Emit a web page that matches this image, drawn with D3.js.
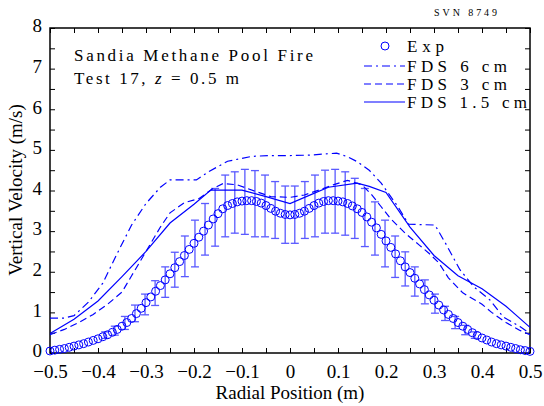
<!DOCTYPE html>
<html>
<head>
<meta charset="utf-8">
<script src="https://cdn.jsdelivr.net/npm/d3@7"></script>
<style>
  body { margin: 0; background: #fff; }
  svg { display: block; }
  .serif { font-family: "Liberation Serif", "Times New Roman", Times, "DejaVu Serif", serif; }
</style>
</head>
<body>
<svg id="chart" width="544" height="406"></svg>
<script>
// experimental data (radial position, velocity)
const expR = [-0.50,-0.49,-0.48,-0.47,-0.46,-0.45,-0.44,-0.43,-0.42,-0.41,
  -0.40,-0.39,-0.38,-0.37,-0.36,-0.35,-0.34,-0.33,-0.32,-0.31,
  -0.30,-0.29,-0.28,-0.27,-0.26,-0.25,-0.24,-0.23,-0.22,-0.21,
  -0.20,-0.19,-0.18,-0.17,-0.16,-0.15,-0.14,-0.13,-0.12,-0.11,
  -0.10,-0.09,-0.08,-0.07,-0.06,-0.05,-0.04,-0.03,-0.02,-0.01,
  0.00,
  0.01,0.02,0.03,0.04,0.05,0.06,0.07,0.08,0.09,0.10,
  0.11,0.12,0.13,0.14,0.15,0.16,0.17,0.18,0.19,0.20,
  0.21,0.22,0.23,0.24,0.25,0.26,0.27,0.28,0.29,0.30,
  0.31,0.32,0.33,0.34,0.35,0.36,0.37,0.38,0.39,0.40,
  0.41,0.42,0.43,0.44,0.45,0.46,0.47,0.48,0.49,0.50];
const expV = [0.05,0.07,0.09,0.11,0.14,0.17,0.20,0.23,0.27,0.31,
  0.35,0.40,0.45,0.51,0.58,0.66,0.75,0.85,0.97,1.10,
  1.24,1.38,1.52,1.66,1.80,1.95,2.10,2.25,2.40,2.55,
  2.70,2.85,3.00,3.15,3.30,3.43,3.55,3.63,3.68,3.72,
  3.74,3.75,3.75,3.73,3.69,3.63,3.56,3.49,3.44,3.41,
  3.40,
  3.41,3.44,3.49,3.56,3.63,3.69,3.73,3.75,3.75,3.74,
  3.72,3.68,3.62,3.55,3.46,3.35,3.22,3.08,2.92,2.76,
  2.60,2.44,2.27,2.12,1.98,1.84,1.70,1.56,1.43,1.30,
  1.18,1.06,0.95,0.85,0.75,0.66,0.58,0.50,0.43,0.37,
  0.32,0.27,0.23,0.20,0.17,0.14,0.11,0.08,0.06,0.04];

// error bars
const errR = [-0.385,-0.365,-0.344,-0.323,-0.302,-0.281,-0.260,-0.240,-0.219,-0.198,
  -0.177,-0.156,-0.135,-0.115,-0.094,-0.073,-0.052,-0.031,-0.010,
  0.010,0.031,0.052,0.073,0.094,0.115,0.135,0.156,0.177,0.198,
  0.219,0.240,0.260,0.281,0.302,0.323,0.344,0.365,0.385];
const errLo = [0.36,0.44,0.58,0.77,0.94,1.17,1.37,1.62,1.88,2.12,
  2.41,2.63,2.86,2.95,2.92,2.86,2.86,2.82,2.70,
  2.70,2.82,2.86,2.95,2.95,2.90,2.82,2.62,2.41,2.12,
  1.86,1.65,1.40,1.21,0.98,0.80,0.60,0.45,0.36];
const errHi = [0.52,0.66,0.90,1.18,1.45,1.78,2.12,2.48,2.88,3.27,
  3.68,4.05,4.38,4.46,4.52,4.49,4.38,4.22,4.11,
  4.11,4.22,4.38,4.50,4.52,4.46,4.30,4.05,3.72,3.27,
  2.88,2.49,2.12,1.80,1.45,1.15,0.90,0.68,0.52];

// FDS 6 cm
const fds6R = [-0.50,-0.47,-0.45,-0.42,-0.39,-0.36,-0.33,-0.30,-0.27,-0.25,-0.195,-0.17,-0.13,-0.08,-0.04,0.00,0.04,0.097,0.12,0.14,0.165,0.19,0.225,0.247,0.302,0.325,0.354,0.383,0.417,0.444,0.479,0.50];
const fds6V = [0.86,0.86,0.92,1.25,1.72,2.45,3.15,3.68,4.08,4.26,4.26,4.46,4.72,4.84,4.86,4.86,4.87,4.92,4.83,4.71,4.50,4.18,3.60,3.17,3.15,2.68,2.05,1.63,1.30,0.89,0.65,0.48];

// FDS 3 cm
const fds3R = [-0.50,-0.47,-0.44,-0.41,-0.38,-0.35,-0.33,-0.30,-0.27,-0.25,-0.22,-0.19,-0.16,-0.14,-0.11,-0.07,-0.04,0.00,0.03,0.06,0.09,0.12,0.15,0.17,0.19,0.21,0.24,0.27,0.29,0.31,0.33,0.36,0.40,0.42,0.45,0.48,0.50];
const fds3V = [0.45,0.58,0.75,0.95,1.20,1.50,1.90,2.50,3.10,3.45,3.70,3.80,4.05,4.17,4.14,3.97,3.85,3.83,3.89,4.01,4.14,4.25,4.14,3.90,3.60,3.30,2.95,2.65,2.45,2.22,1.85,1.48,1.20,1.00,0.75,0.55,0.45];

// FDS 1.5 cm
const fds15R = [-0.50,-0.45,-0.40,-0.35,-0.30,-0.25,-0.20,-0.165,-0.10,-0.05,0.00,0.04,0.08,0.14,0.165,0.20,0.25,0.30,0.35,0.40,0.45,0.50];
const fds15V = [0.48,0.83,1.28,1.88,2.50,3.20,3.66,4.01,4.01,3.85,3.68,3.88,4.08,4.18,4.10,3.95,3.10,2.40,1.90,1.58,1.15,0.63];

const xTicks = [-0.5,-0.45,-0.4,-0.35,-0.3,-0.25,-0.2,-0.15,-0.1,-0.05,0,0.05,0.1,0.15,0.2,0.25,0.3,0.35,0.4,0.45,0.5];
const xLabels = [-0.5,-0.4,-0.3,-0.2,-0.1,0,0.1,0.2,0.3,0.4,0.5];
const yTicks = [0,0.5,1,1.5,2,2.5,3,3.5,4,4.5,5,5.5,6,6.5,7,7.5,8];
const yLabels = [0,1,2,3,4,5,6,7,8];

const blue = "#0000ff";
const errBlue = "#5a5aff";

const svg = d3.select("#chart");
const plot = {left: 50, right: 530, top: 28, bottom: 353};

const x = d3.scaleLinear().domain([-0.5, 0.5]).range([plot.left, plot.right]);
const y = d3.scaleLinear().domain([0, 8]).range([plot.bottom, plot.top]);

const fmtX = d3.format(".1f");
function labelX(d) {
    if (!xLabels.some(v => Math.abs(v - d) < 1e-9)) return "";
    return Math.abs(d) < 1e-9 ? "0" : fmtX(d);
}
function labelY(d) {
    return yLabels.indexOf(d) >= 0 ? String(d) : "";
}

// axes with inward ticks
const gx = svg.append("g")
    .attr("transform", "translate(0," + plot.bottom + ")")
    .call(d3.axisBottom(x).tickValues(xTicks).tickFormat(labelX).tickSizeInner(-5).tickSizeOuter(0).tickPadding(12));
const gxTop = svg.append("g")
    .attr("transform", "translate(0," + plot.top + ")")
    .call(d3.axisTop(x).tickValues(xTicks).tickFormat("").tickSizeInner(-5).tickSizeOuter(0));
const gy = svg.append("g")
    .attr("transform", "translate(" + plot.left + ",0)")
    .call(d3.axisLeft(y).tickValues(yTicks).tickFormat(labelY).tickSizeInner(-5).tickSizeOuter(0).tickPadding(8));
const gyRight = svg.append("g")
    .attr("transform", "translate(" + plot.right + ",0)")
    .call(d3.axisRight(y).tickValues(yTicks).tickFormat("").tickSizeInner(-5).tickSizeOuter(0));

[gx, gxTop, gy, gyRight].forEach(function (g) {
    g.attr("font-family", null).attr("font-size", null);
    g.select(".domain").remove();
    g.selectAll(".tick line").attr("stroke", "#000").attr("stroke-width", 1);
    g.selectAll(".tick text")
        .attr("class", "serif")
        .attr("fill", "#000")
        .style("font-size", "19px");
});
gy.selectAll(".tick text").attr("dy", "0.2em");

svg.append("rect")
    .attr("x", plot.left)
    .attr("y", plot.top)
    .attr("width", plot.right - plot.left)
    .attr("height", plot.bottom - plot.top)
    .attr("fill", "none")
    .attr("stroke", "#000")
    .attr("stroke-width", 1.5);

// error bars
const errData = errR.map((r, i) => ({r: r, lo: errLo[i], hi: errHi[i]}));
const eb = svg.append("g").attr("stroke", errBlue).attr("stroke-width", 1.3).attr("fill", "none");
errData.forEach(function (d) {
    eb.append("line").attr("x1", x(d.r)).attr("x2", x(d.r)).attr("y1", y(d.lo)).attr("y2", y(d.hi));
    eb.append("line").attr("x1", x(d.r) - 4).attr("x2", x(d.r) + 4).attr("y1", y(d.lo)).attr("y2", y(d.lo));
    eb.append("line").attr("x1", x(d.r) - 4).attr("x2", x(d.r) + 4).attr("y1", y(d.hi)).attr("y2", y(d.hi));
});

// model lines
const line = d3.line().x(d => x(d[0])).y(d => y(d[1]));
const series = [
    {r: fds6R, v: fds6V, dash: "8,4,2,4"},
    {r: fds3R, v: fds3V, dash: "7,4"},
    {r: fds15R, v: fds15V, dash: null}
];
series.forEach(function (s) {
    svg.append("path")
        .datum(s.r.map((r, i) => [r, s.v[i]]))
        .attr("fill", "none")
        .attr("stroke", blue)
        .attr("stroke-width", 1.2)
        .attr("stroke-dasharray", s.dash)
        .attr("d", line);
});

// experimental circles
svg.append("g")
    .selectAll("circle")
    .data(expR.map((r, i) => [r, expV[i]]))
    .join("circle")
    .attr("cx", d => x(d[0]))
    .attr("cy", d => y(d[1]))
    .attr("r", 4)
    .attr("fill", "none")
    .attr("stroke", blue)
    .attr("stroke-width", 1);

// axis titles
svg.append("text")
    .attr("class", "serif")
    .attr("x", 290)
    .attr("y", 399)
    .attr("text-anchor", "middle")
    .style("font-size", "19px")
    .text("Radial Position (m)");

svg.append("text")
    .attr("class", "serif")
    .attr("transform", "translate(22,190) rotate(-90)")
    .attr("text-anchor", "middle")
    .style("font-size", "19px")
    .text("Vertical Velocity (m/s)");

// annotation
svg.append("text")
    .attr("class", "serif")
    .attr("x", 74).attr("y", 61)
    .attr("textLength", 239).attr("lengthAdjust", "spacing")
    .style("font-size", "17px")
    .text("Sandia Methane Pool Fire");
const t2 = svg.append("text")
    .attr("class", "serif")
    .attr("x", 74).attr("y", 84)
    .attr("textLength", 165).attr("lengthAdjust", "spacing")
    .style("font-size", "17px");
t2.append("tspan").text("Test 17, ");
t2.append("tspan").style("font-style", "italic").text("z");
t2.append("tspan").text(" = 0.5 m");

svg.append("text")
    .attr("class", "serif")
    .attr("x", 434).attr("y", 16)
    .attr("textLength", 63).attr("lengthAdjust", "spacing")
    .style("font-size", "10px")
    .text("SVN 8749");

// legend
const legendRows = [
    {label: "Exp", y: 46, type: "circle"},
    {label: "FDS 6 cm", y: 66, dash: "8,4,2,4"},
    {label: "FDS 3 cm", y: 84, dash: "7,4"},
    {label: "FDS 1.5 cm", y: 102, dash: null}
];
const legendWidths = {"Exp": 37, "FDS 6 cm": 100, "FDS 3 cm": 100, "FDS 1.5 cm": 120};
legendRows.forEach(function (d) {
    if (d.type === "circle") {
        svg.append("circle").attr("cx", 385).attr("cy", d.y).attr("r", 4)
            .attr("fill", "none").attr("stroke", blue).attr("stroke-width", 1);
    } else {
        svg.append("line").attr("x1", 364).attr("x2", 405).attr("y1", d.y).attr("y2", d.y)
            .attr("stroke", blue).attr("stroke-width", 1.2).attr("stroke-dasharray", d.dash);
    }
    svg.append("text")
        .attr("class", "serif")
        .attr("x", 407).attr("y", d.y + 6)
        .attr("textLength", legendWidths[d.label]).attr("lengthAdjust", "spacing")
        .style("font-size", "17px")
        .text(d.label);
});
</script>
</body>
</html>
